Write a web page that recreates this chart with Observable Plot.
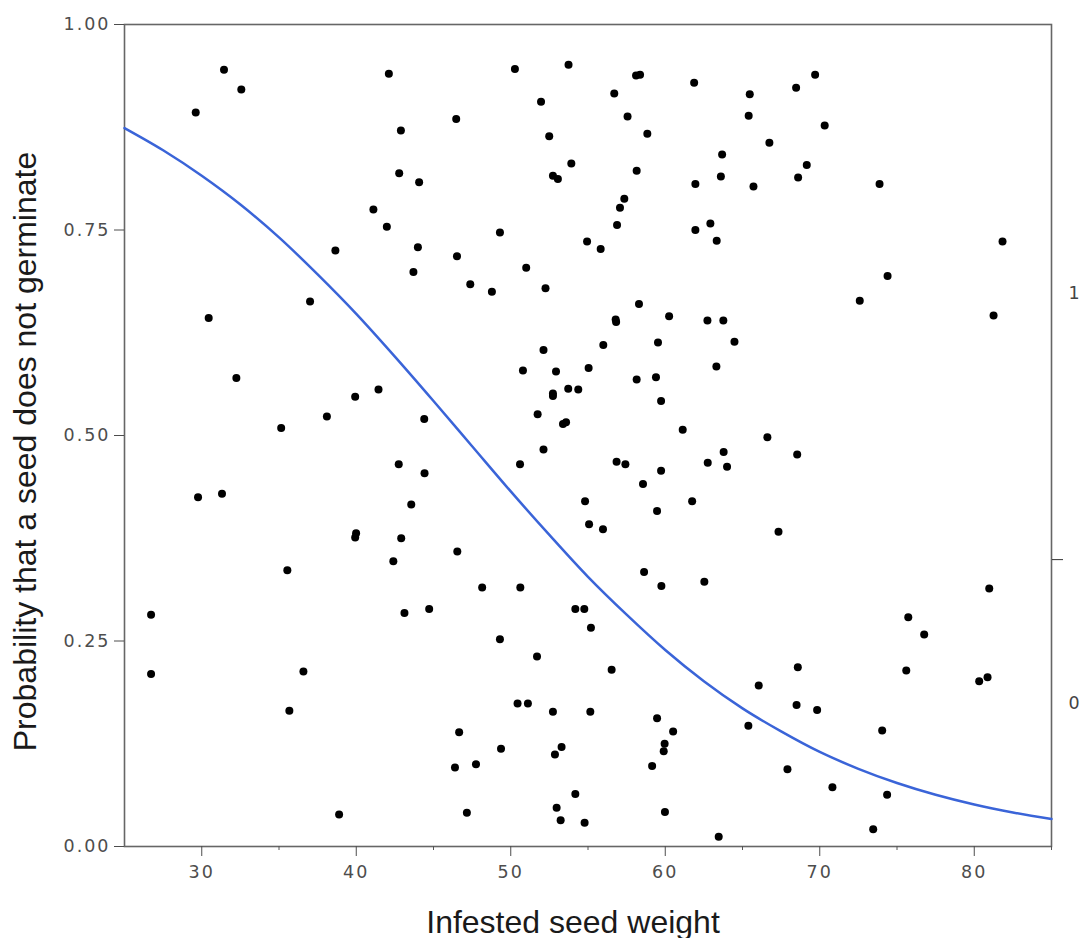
<!DOCTYPE html>
<html>
<head>
<meta charset="utf-8">
<script src="https://cdn.jsdelivr.net/npm/d3@7"></script>
<script src="https://cdn.jsdelivr.net/npm/@observablehq/plot@0.6"></script>
<style>
  html, body { margin: 0; padding: 0; background: #fff; }
  #chart svg { display: block; }
  #chart svg g[aria-label="y-axis tick label"],
  #chart svg g[aria-label="x-axis tick label"] {
    font-size: 17.5px !important;
    font-family: "DejaVu Sans", Verdana, sans-serif !important;
    letter-spacing: 2px;
  }
</style>
</head>
<body>
<div id="chart"></div>
<script>
// Observed points: infested seed weight (x) and probability (y)
const seedWeight = [
  29.61,31.44,32.56,42.11,42.89,42.78,41.11,41.98,38.65,37.01,30.45,50.27,53.74,58.11,58.37,61.87,51.96,56.70,46.47,57.56,
  52.49,58.84,63.68,53.92,44.07,52.73,53.05,58.15,61.95,63.60,57.35,57.07,56.88,49.30,62.92,61.95,63.33,43.99,46.52,54.94,
  55.82,43.70,51.00,47.38,48.78,52.25,58.30,56.79,56.82,60.25,62.73,63.76,65.47,65.40,68.47,69.70,70.32,66.74,65.71,69.16,
  68.60,73.87,81.83,74.39,72.59,81.25,32.24,41.44,39.93,38.10,35.14,42.75,29.76,31.31,39.99,39.93,42.91,35.54,42.40,26.72,
  26.72,36.58,35.67,38.89,52.12,50.79,52.93,55.04,55.99,59.53,64.48,63.31,58.15,59.40,53.72,54.37,52.73,52.73,59.73,51.74,
  53.38,53.58,61.13,44.40,52.12,56.85,57.42,63.78,62.75,64.00,59.73,50.60,44.42,58.56,43.56,54.81,61.74,59.47,55.07,55.97,
  46.54,58.63,59.75,62.53,48.15,50.62,43.12,44.72,54.18,54.76,66.61,68.54,67.33,80.97,75.73,55.19,49.30,51.70,56.53,50.44,
  51.11,52.73,55.15,59.47,60.51,46.66,49.37,53.29,52.86,59.96,59.90,46.39,47.75,59.15,54.18,47.16,52.97,53.23,54.78,59.98,
  63.46,76.76,68.58,75.60,66.05,80.32,80.86,68.50,69.83,65.38,74.04,67.91,70.82,74.36,73.46
];
const probability = [
  0.893,0.945,0.921,0.940,0.871,0.819,0.775,0.754,0.725,0.663,0.643,0.946,0.951,0.938,0.939,0.929,0.906,0.916,0.885,0.888,
  0.864,0.867,0.842,0.831,0.808,0.816,0.812,0.822,0.806,0.815,0.788,0.777,0.756,0.747,0.758,0.750,0.737,0.729,0.718,0.736,
  0.727,0.699,0.704,0.684,0.675,0.679,0.660,0.641,0.638,0.645,0.640,0.640,0.915,0.889,0.923,0.939,0.877,0.856,0.803,0.829,
  0.814,0.806,0.736,0.694,0.664,0.646,0.570,0.556,0.547,0.523,0.509,0.465,0.425,0.429,0.381,0.376,0.375,0.336,0.347,0.282,
  0.210,0.213,0.165,0.039,0.604,0.579,0.578,0.582,0.610,0.613,0.614,0.584,0.568,0.571,0.557,0.556,0.551,0.548,0.542,0.526,
  0.514,0.516,0.507,0.520,0.483,0.468,0.465,0.480,0.467,0.462,0.457,0.465,0.454,0.441,0.416,0.420,0.420,0.408,0.392,0.386,
  0.359,0.334,0.317,0.322,0.315,0.315,0.284,0.289,0.289,0.289,0.498,0.477,0.383,0.314,0.279,0.266,0.252,0.231,0.215,0.174,
  0.174,0.164,0.164,0.156,0.140,0.139,0.119,0.121,0.112,0.125,0.116,0.096,0.100,0.098,0.064,0.041,0.047,0.032,0.029,0.042,
  0.012,0.258,0.218,0.214,0.196,0.201,0.206,0.172,0.166,0.147,0.141,0.094,0.072,0.063,0.021
];

// Fitted curve
const curveWeight = [25,27.5,30,32.5,35,37.5,40,42.5,45,47.5,50,52.5,55,57.5,60,62.5,65,67.5,70,72.5,75,77.5,80,82.5,85];
const curveProb = [0.874,0.847,0.816,0.781,0.741,0.696,0.648,0.596,0.542,0.487,0.432,0.379,0.328,0.282,0.239,0.201,0.168,0.140,0.115,0.0945,0.0772,0.0629,0.0511,0.0414,0.0334];

// Axis ticks
const xMajorTicks = [30,40,50,60,70,80];
const xMinorTicks = [35,45,55,65,75,85];
const yTicks = [0,0.25,0.5,0.75,1];
// Stray secondary axis at the right edge
const rightTickValues = [0.673, 0.174];
const rightTickLabels = ["1", "0"];
const rightMarkValues = [0.349];

const xTitle = "Infested seed weight";
const yTitle = "Probability that a seed does not germinate";

const points = seedWeight.map((w, i) => ({w, p: probability[i]}));
const curve = curveWeight.map((w, i) => ({w, p: curveProb[i]}));

const titleFont = "Liberation Sans, Arial, sans-serif";

const chart = Plot.plot({
  width: 1083,
  height: 938,
  marginLeft: 124,
  marginRight: 32,
  marginTop: 24,
  marginBottom: 92,
  style: {background: "#fff", overflow: "visible"},
  x: {domain: [25, 85]},
  y: {domain: [0, 1]},
  marks: [
    Plot.frame({stroke: "#666", strokeWidth: 1.6}),
    Plot.axisY(yTicks, {
      anchor: "left", tickSize: 10, tickPadding: 4, tickFormat: d3.format(".2f"),
      color: "#4d4d4d", label: null
    }),
    Plot.axisX(xMajorTicks, {
      anchor: "bottom", tickSize: 10, tickPadding: 9, tickFormat: d => String(d),
      color: "#4d4d4d", label: null
    }),
    Plot.axisX(xMinorTicks, {
      anchor: "bottom", tickSize: 4, tickFormat: () => "", color: "#555", label: null
    }),
    Plot.axisY(rightTickValues, {
      anchor: "right", tickSize: 0, tickPadding: 17, tickFormat: (d, i) => rightTickLabels[i],
      color: "#444", label: null
    }),
    Plot.axisY(rightMarkValues, {
      anchor: "right", tickSize: 11, tickFormat: () => "", color: "#333", label: null
    }),
    Plot.dot(points, {x: "w", y: "p", r: 4, fill: "#000", stroke: "none"}),
    Plot.line(curve, {x: "w", y: "p", stroke: "#3a64d8", strokeWidth: 2.5, curve: "monotone-x"}),
    Plot.text([xTitle], {
      frameAnchor: "bottom", dx: -15, dy: 76, text: d => d, fontSize: 32,
      fontFamily: titleFont, fill: "#1a1a1a", lineAnchor: "middle", textAnchor: "middle"
    }),
    Plot.text([yTitle], {
      frameAnchor: "left", dx: -99, dy: 16, rotate: -90, text: d => d, fontSize: 32,
      fontFamily: titleFont, fill: "#1a1a1a", lineAnchor: "middle", textAnchor: "middle"
    })
  ]
});
document.getElementById("chart").appendChild(chart);
</script>
</body>
</html>
